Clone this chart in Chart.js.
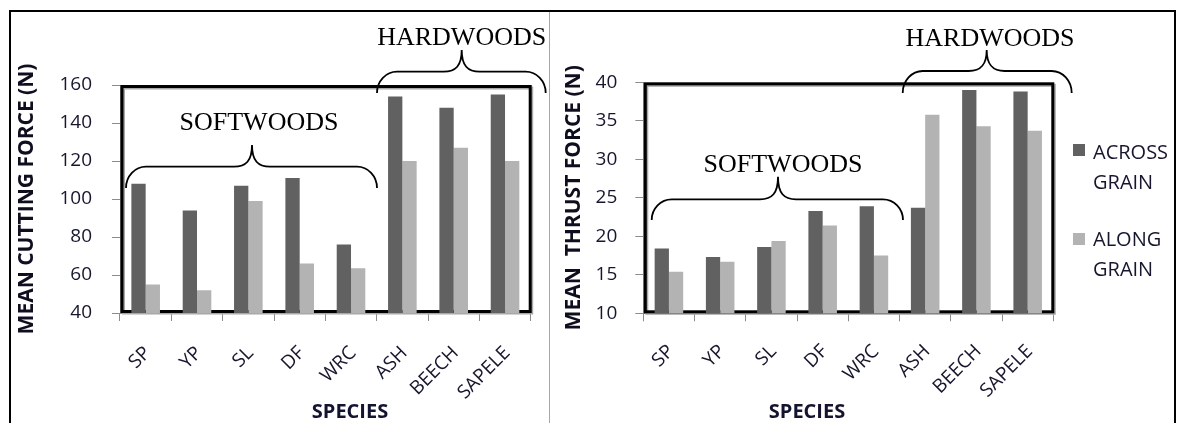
<!DOCTYPE html>
<html><head><meta charset="utf-8">
<script src="https://cdn.jsdelivr.net/npm/chart.js@4.4.1/dist/chart.umd.min.js"></script>
<style>
html,body{margin:0;padding:0;background:#fff;width:1177px;height:423px;overflow:hidden;}
#wrap{position:relative;width:1177px;height:423px;}
#c1{position:absolute;left:0;top:0;}
#c2{position:absolute;left:550px;top:0;}
.frame{position:absolute;left:9px;top:10px;width:1167px;height:430px;border-left:2px solid #000;border-top:2px solid #000;border-right:2px solid #000;box-sizing:border-box;}
.sep{position:absolute;left:549px;top:12px;width:1px;height:420px;background:#a6a6a6;}
</style></head>
<body>
<div id="wrap">
<div class="frame"></div>
<div class="sep"></div>
<canvas id="c1" width="549" height="423"></canvas>
<canvas id="c2" width="627" height="423"></canvas>
</div>
<script>
// ---- data ----
const categories = ['SP', 'YP', 'SL', 'DF', 'WRC', 'ASH', 'BEECH', 'SAPELE'];
const seriesNames = ['ACROSS GRAIN', 'ALONG GRAIN'];
const cuttingAcross = [108, 94, 107, 111, 76, 154, 148, 155];
const cuttingAlong = [55, 52, 99, 66, 63.5, 120, 127, 120];
const thrustAcross = [18.4, 17.3, 18.6, 23.3, 23.9, 23.7, 39.0, 38.8];
const thrustAlong = [15.4, 16.7, 19.4, 21.4, 17.5, 35.8, 34.3, 33.7];
const cuttingTicks = [40, 60, 80, 100, 120, 140, 160];
const thrustTicks = [10, 15, 20, 25, 30, 35, 40];

// ---- styles ----
const DARK = '#616161';
const LIGHT = '#b3b3b3';
const TICKC = '#16162e';
const AXISC = '#8c8c8c';

function drawBrace(ctx, b) {
  const r = 20, k = 0.55, h = b.yend - b.yh;
  ctx.beginPath();
  ctx.moveTo(b.x1, b.yend);
  ctx.bezierCurveTo(b.x1, b.yend - k * h, b.x1 + r - k * r, b.yh, b.x1 + r, b.yh);
  ctx.lineTo(b.xm - 18, b.yh);
  ctx.bezierCurveTo(b.xm - 6, b.yh, b.xm, b.yh - 6, b.xm, b.ytip);
  ctx.bezierCurveTo(b.xm, b.yh - 6, b.xm + 6, b.yh, b.xm + 18, b.yh);
  ctx.lineTo(b.x2 - r, b.yh);
  ctx.bezierCurveTo(b.x2 - r + k * r, b.yh, b.x2, b.yend - k * h, b.x2, b.yend);
  ctx.stroke();
}

const framePlugin = {
  id: 'plotFrame',
  beforeDatasetsDraw(chart) {
    const ca = chart.chartArea, ctx = chart.ctx;
    ctx.save();
    ctx.lineWidth = 3;
    ctx.strokeStyle = '#a8a8a8';
    ctx.strokeRect(ca.left + 3.5, ca.top + 3, ca.right - ca.left - 2.5, ca.bottom - ca.top - 3);
    ctx.strokeStyle = '#000';
    ctx.strokeRect(ca.left + 2, ca.top + 1.5, ca.right - ca.left - 2.5, ca.bottom - ca.top - 3);
    ctx.restore();
  }
};

const notePlugin = {
  id: 'notes',
  afterDraw(chart, args, o) {
    const ctx = chart.ctx;
    ctx.save();
    ctx.fillStyle = '#000';
    ctx.strokeStyle = '#000';
    ctx.lineWidth = 1.8;
    ctx.font = '26px "Liberation Serif", "Times New Roman", serif';
    ctx.textAlign = 'center';
    ctx.textBaseline = 'alphabetic';
    for (const g of o.groups) {
      ctx.fillText(g.text, g.tx, g.ty);
      drawBrace(ctx, g);
    }
    // x-axis title
    ctx.font = 'bold 20px "Open Sans", sans-serif';
    ctx.fillStyle = '#141430';
    ctx.fillText(o.xTitle, o.xTitleX, o.xTitleY);
    // legend
    if (o.legend) {
      ctx.textAlign = 'left';
      ctx.font = '20px "Open Sans", sans-serif';
      chart.data.datasets.forEach((ds, i) => {
        const L = o.legend[i];
        ctx.fillStyle = ds.backgroundColor;
        ctx.fillRect(L.sx, L.sy, 12, 12);
        ctx.fillStyle = TICKC;
        ds.label.split(' ').forEach((w, j) => ctx.fillText(w, L.tx, L.ty + j * 30));
      });
    }
    ctx.restore();
  }
};

function makeChart(id, c) {
  return new Chart(document.getElementById(id), {
    type: 'bar',
    data: {
      labels: categories,
      datasets: [
        { label: seriesNames[0], data: c.across, backgroundColor: DARK, borderWidth: 0 },
        { label: seriesNames[1], data: c.along, backgroundColor: LIGHT, borderWidth: 0 }
      ]
    },
    options: {
      responsive: false,
      animation: false,
      devicePixelRatio: 1,
      layout: { padding: { left: 8, right: c.padRight, top: c.padTop, bottom: 0 } },
      datasets: { bar: { categoryPercentage: 0.557, barPercentage: 1 } },
      plugins: {
        legend: { display: false },
        tooltip: { enabled: false },
        notes: c.notes
      },
      scales: {
        x: {
          offset: true,
          grid: { display: true, drawOnChartArea: false, tickLength: 8, color: AXISC, offset: true },
          border: { display: true, color: AXISC, width: 1 },
          ticks: {
            autoSkip: false, minRotation: 45, maxRotation: 45,
            padding: c.xPad, labelOffset: 2,
            font: { family: 'Open Sans', size: 19 }, color: TICKC
          },
          afterFit(s) { s.height = c.xHeight; }
        },
        y: {
          min: c.ticks[0], max: c.ticks[c.ticks.length - 1],
          afterBuildTicks(s) { s.ticks = c.ticks.map(v => ({ value: v })); },
          grid: { display: true, drawOnChartArea: false, tickLength: 8, color: AXISC },
          border: { display: true, color: AXISC, width: 1 },
          ticks: { padding: c.yPad, font: { family: 'Open Sans', size: 19 }, color: TICKC },
          title: {
            display: true, text: c.yTitle, color: '#0e0e1e',
            font: { family: 'Open Sans', size: 21, weight: 'bold', lineHeight: 1.2 },
            padding: { top: c.titlePad, bottom: 0 }
          },
          afterFit(s) { s.width = c.yWidth; }
        }
      }
    },
    plugins: [framePlugin, notePlugin]
  });
}

makeChart('c1', {
  across: cuttingAcross, along: cuttingAlong, ticks: cuttingTicks,
  yTitle: 'MEAN CUTTING FORCE (N)',
  padRight: 18.3, padTop: 85, xHeight: 110, yWidth: 112, yPad: 20, xPad: 21, titlePad: 6,
  notes: {
    groups: [
      { text: 'SOFTWOODS', tx: 259, ty: 130, x1: 126, x2: 377, yh: 166.7, yend: 188, xm: 252, ytip: 145 },
      { text: 'HARDWOODS', tx: 461.7, ty: 45, x1: 377, x2: 545.7, yh: 71.7, yend: 93, xm: 461.7, ytip: 50 }
    ],
    xTitle: 'SPECIES', xTitleX: 350, xTitleY: 418
  }
});

makeChart('c2', {
  across: thrustAcross, along: thrustAlong, ticks: thrustTicks,
  yTitle: 'MEAN  THRUST FORCE (N)',
  padRight: 123.7, padTop: 82.3, xHeight: 109.7, yWidth: 85.3, yPad: 18, xPad: 19, titlePad: 3,
  notes: {
    groups: [
      { text: 'SOFTWOODS', tx: 233, ty: 171.7, x1: 101.7, x2: 353, yh: 199.3, yend: 220, xm: 228, ytip: 176.7 },
      { text: 'HARDWOODS', tx: 440, ty: 46, x1: 352.7, x2: 521.7, yh: 71, yend: 93, xm: 436.7, ytip: 50 }
    ],
    xTitle: 'SPECIES', xTitleX: 257, xTitleY: 418,
    legend: [
      { sx: 523, sy: 144, tx: 543, ty: 158.5 },
      { sx: 523, sy: 233, tx: 543, ty: 246 }
    ]
  }
});
</script>
</body></html>
